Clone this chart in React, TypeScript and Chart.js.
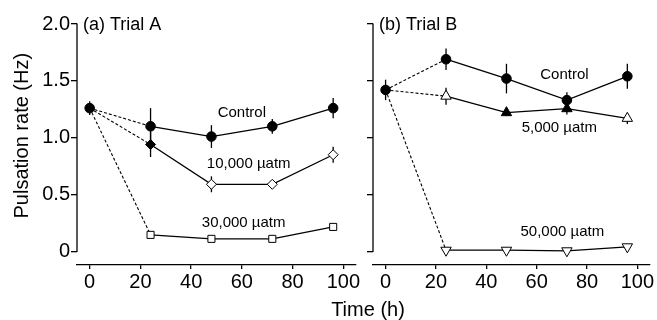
import React, { useEffect, useRef } from 'react';
import { Chart, registerables } from 'chart.js';

Chart.register(...registerables);

const FONT = 'Arial, "Liberation Sans", Helvetica, sans-serif';

const hours = [0, 24, 48, 72, 96];
const xTicks = [0, 20, 40, 60, 80, 100];
const yTicks = [0, 0.5, 1.0, 1.5, 2.0];

// Trial A
const aControl = [1.26, 1.1, 1.01, 1.1, 1.26];
const aControlErr = [0.06, 0.16, 0.1, 0.065, 0.09];
const a10000 = [1.26, 0.94, 0.59, 0.59, 0.85];
const a10000Err = [0, 0.11, 0.07, 0.03, 0.07];
const a30000 = [1.26, 0.145, 0.11, 0.11, 0.215];
const a30000Err = [0, 0.02, 0.01, 0.01, 0.02];

// Trial B
const bControl = [1.42, 1.69, 1.52, 1.33, 1.54];
const bControlErr = [0.09, 0.095, 0.13, 0.07, 0.11];
const b5000 = [1.42, 1.365, 1.22, 1.255, 1.17];
const b5000Err = [0, 0.075, 0.03, 0.05, 0.05];
const b50000 = [1.42, 0.01, 0.01, 0.005, 0.04];
const b50000Err = [0, 0, 0, 0, 0];

const labelsA = [
  { text: 'Control', x: 60, y: 1.22 },
  { text: '10,000 µatm', x: 62.7, y: 0.77 },
  { text: '30,000 µatm', x: 60.7, y: 0.25 },
];
const labelsB = [
  { text: 'Control', x: 71, y: 1.55 },
  { text: '5,000 µatm', x: 69, y: 1.085 },
  { text: '50,000 µatm', x: 70.2, y: 0.17 },
];

const BLACK = '#000';
const WHITE = '#fff';

function series(values: number[], errs: number[], styles: string[], fills: string[], radius: number, rotation: number, showFirst: boolean) {
  return {
    data: hours.map((h, i) => ({ x: h, y: values[i] })),
    errors: errs,
    borderColor: BLACK,
    borderWidth: 1.3,
    pointStyle: styles,
    pointRadius: hours.map((_, i) => (i === 0 && !showFirst ? 0 : radius)),
    pointHoverRadius: hours.map((_, i) => (i === 0 && !showFirst ? 0 : radius)),
    pointBackgroundColor: fills,
    pointBorderColor: BLACK,
    pointBorderWidth: 1,
    pointRotation: rotation,
    tension: 0,
    fill: false,
    segment: {
      borderDash: (ctx: any) => (ctx.p0DataIndex === 0 ? [3, 2] : undefined),
      borderWidth: (ctx: any) => (ctx.p0DataIndex === 0 ? 1.1 : 1.3),
    },
  };
}

const errorBarPlugin = {
  id: 'errorBars',
  beforeDatasetsDraw(chart: any) {
    const ctx = chart.ctx;
    const y = chart.scales.y;
    ctx.save();
    ctx.strokeStyle = BLACK;
    ctx.lineWidth = 1.3;
    chart.data.datasets.forEach((ds: any, i: number) => {
      const meta = chart.getDatasetMeta(i);
      ds.errors.forEach((e: number, j: number) => {
        if (!e) return;
        const v = ds.data[j].y;
        const pt = meta.data[j];
        ctx.beginPath();
        ctx.moveTo(pt.x, y.getPixelForValue(v + e));
        ctx.lineTo(pt.x, y.getPixelForValue(v - e));
        ctx.stroke();
      });
    });
    ctx.restore();
  },
};

function makeTextPlugin(title: string, labels: { text: string; x: number; y: number }[], extra: boolean) {
  return {
    id: 'texts',
    afterDraw(chart: any) {
      const ctx = chart.ctx;
      const xs = chart.scales.x;
      const ys = chart.scales.y;
      const area = chart.chartArea;
      ctx.save();
      ctx.fillStyle = BLACK;
      // y-axis line from 0 to 2.0
      ctx.strokeStyle = BLACK;
      ctx.lineWidth = 1.3;
      ctx.beginPath();
      ctx.moveTo(area.left, ys.getPixelForValue(yTicks[0]) + 0.6);
      ctx.lineTo(area.left, ys.getPixelForValue(yTicks[yTicks.length - 1]) - 0.6);
      ctx.stroke();
      // panel title
      ctx.font = `18px ${FONT}`;
      ctx.textAlign = 'left';
      ctx.textBaseline = 'middle';
      ctx.fillText(title, area.left + 6, ys.getPixelForValue(2.0) + 1);
      // series labels
      ctx.font = `15px ${FONT}`;
      ctx.textAlign = 'center';
      labels.forEach((l) => {
        ctx.fillText(l.text, xs.getPixelForValue(l.x), ys.getPixelForValue(l.y));
      });
      if (extra) {
        ctx.font = `20px ${FONT}`;
        ctx.save();
        ctx.translate(22, (ys.getPixelForValue(0) + ys.getPixelForValue(2)) / 2 - 2);
        ctx.rotate(-Math.PI / 2);
        ctx.textAlign = 'center';
        ctx.textBaseline = 'middle';
        ctx.fillText('Pulsation rate (Hz)', 0, 0);
        ctx.restore();
        ctx.textAlign = 'center';
        ctx.textBaseline = 'alphabetic';
        ctx.fillText('Time (h)', 368, 316);
      }
      ctx.restore();
    },
  };
}

function makeConfig(datasets: any[], left: number, right: number, yWidth: number, showYLabels: boolean, title: string, labels: any[], extra: boolean): any {
  return {
    type: 'line',
    data: { datasets },
    plugins: [errorBarPlugin, makeTextPlugin(title, labels, extra)],
    options: {
      animation: false,
      responsive: false,
      events: [],
      layout: { padding: { left, right, top: 24, bottom: 0 } },
      plugins: { legend: { display: false }, tooltip: { enabled: false } },
      scales: {
        x: {
          type: 'linear',
          min: -5,
          max: 105,
          afterBuildTicks: (s: any) => {
            s.ticks = xTicks.map((v) => ({ value: v }));
          },
          ticks: { font: { family: FONT, size: 20 }, color: BLACK, padding: 1, maxRotation: 0, autoSkip: false },
          grid: { drawOnChartArea: false, drawTicks: true, tickLength: 4, color: BLACK, lineWidth: 1.3 },
          border: { display: true, color: BLACK, width: 1.3 },
          afterFit: (s: any) => {
            s.paddingLeft = 0;
            s.paddingRight = 0;
            s.height = 55;
          },
        },
        y: {
          type: 'linear',
          min: -0.12,
          max: 2.0,
          afterBuildTicks: (s: any) => {
            s.ticks = yTicks.map((v) => ({ value: v }));
          },
          ticks: {
            display: showYLabels,
            font: { family: FONT, size: 20 },
            color: BLACK,
            padding: 1,
            callback: (v: number) => (v === 0 ? '0' : v.toFixed(1)),
          },
          grid: { drawOnChartArea: false, drawTicks: true, tickLength: 6, color: BLACK, lineWidth: 1.3 },
          border: { display: false },
          afterFit: (s: any) => {
            s.width = yWidth;
            s.paddingTop = 0;
            s.paddingBottom = 0;
          },
        },
      },
    },
  };
}

export default function App() {
  const refA = useRef<HTMLCanvasElement>(null);
  const refB = useRef<HTMLCanvasElement>(null);

  useEffect(() => {
    const circle = hours.map(() => 'circle');
    const black = hours.map(() => BLACK);
    const dsA = [
      series(aControl, aControlErr, circle, black, 4.8, 0, true),
      series(a10000, a10000Err, hours.map(() => 'rectRot'), [BLACK, BLACK, WHITE, WHITE, WHITE], 5, 0, false),
      series(a30000, a30000Err, hours.map(() => 'rect'), hours.map(() => WHITE), 5, 0, false),
    ];
    const dsB = [
      series(bControl, bControlErr, circle, black, 4.8, 0, true),
      series(b5000, b5000Err, hours.map(() => 'triangle'), [BLACK, WHITE, BLACK, BLACK, WHITE], 6, 0, false),
      series(b50000, b50000Err, hours.map(() => 'triangle'), hours.map(() => WHITE), 6, 180, false),
    ];
    const chartA = new Chart(refA.current!, makeConfig(dsA, 0, 657 - 356, 77, true, '(a) Trial A', labelsA, true));
    const chartB = new Chart(refB.current!, makeConfig(dsB, 373 - 12, 657 - 652, 12, false, '(b) Trial B', labelsB, false));
    return () => {
      chartA.destroy();
      chartB.destroy();
    };
  }, []);

  const canvasStyle: React.CSSProperties = { position: 'absolute', left: 0, top: 0, width: 657, height: 320 };
  return (
    <div style={{ position: 'absolute', left: 0, top: 0, width: 657, height: 320, background: '#fff' }}>
      <canvas ref={refA} width={657} height={320} style={canvasStyle} />
      <canvas ref={refB} width={657} height={320} style={canvasStyle} />
    </div>
  );
}
